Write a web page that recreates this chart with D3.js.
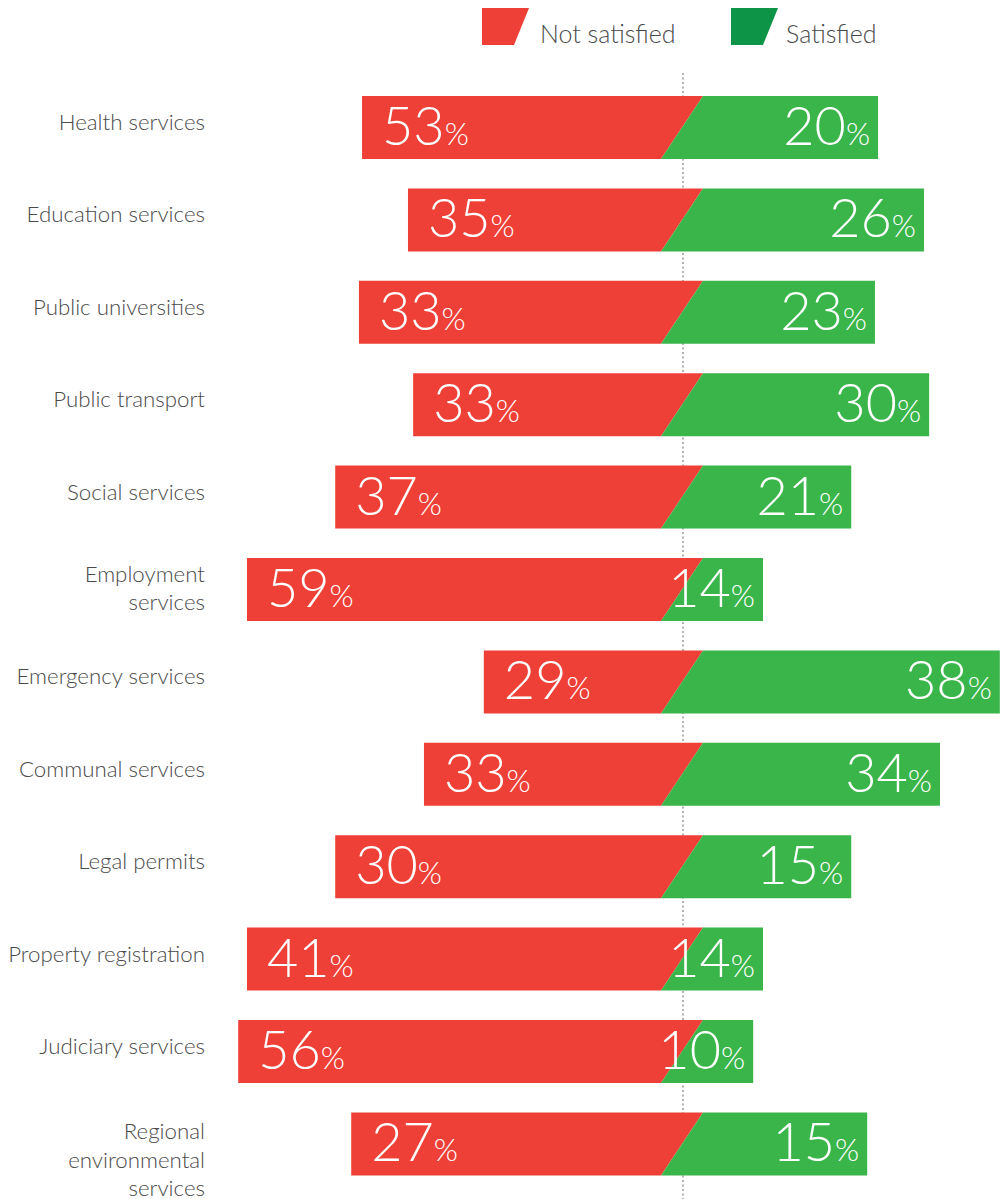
<!DOCTYPE html>
<html>
<head>
<meta charset="utf-8">
<script src="https://cdn.jsdelivr.net/npm/d3@7"></script>
<style>
  html, body { margin: 0; padding: 0; background: #fff; }
  svg { display: block; }
</style>
</head>
<body>
<svg id="chart" width="1004" height="1199"></svg>
<script>
// ---- data ----
const categories = [
  "Health services", "Education services", "Public universities", "Public transport",
  "Social services", "Employment services", "Emergency services", "Communal services",
  "Legal permits", "Property registration", "Judiciary services", "Regional environmental services"
];
// label lines as printed
const categoryLines = [
  ["Health services"], ["Education services"], ["Public universities"], ["Public transport"],
  ["Social services"], ["Employment", "services"], ["Emergency services"], ["Communal services"],
  ["Legal permits"], ["Property registration"], ["Judiciary services"], ["Regional", "environmental", "services"]
];
// printed percentages
const notSatisfied = [53, 35, 33, 33, 37, 59, 29, 33, 30, 41, 56, 27];
const satisfied    = [20, 26, 23, 30, 21, 14, 38, 34, 15, 14, 10, 15];
// drawn share of each bar (% of bar length)
const notSatisfiedBar = [62.2, 53.3, 62.8, 52.3, 67.4, 84.5, 38.6, 50.2, 67.4, 84.5, 86.2, 64.3];
const satisfiedBar    = [37.8, 46.7, 37.2, 47.7, 32.6, 15.5, 61.4, 49.8, 32.6, 15.5, 13.6, 35.7];
const seriesNames = ["Not satisfied", "Satisfied"];

// ---- layout ----
const W = 1004, H = 1199;
const centerX = 683;
const barLen = 516;
const RED = "#ef4037", GREEN = "#3ab54a", GREEN_LEG = "#0e9447";
const FONT = "Lato, 'Open Sans', sans-serif";

const svg = d3.select("#chart");

const x = d3.scaleLinear().domain([-100, 100]).range([centerX - barLen, centerX + barLen]);
const y = d3.scaleBand().domain(categories).range([96, 1175.4]).paddingInner(0.318).paddingOuter(0).align(0);
const bh = y.bandwidth();

const rows = categories.map((c, i) => ({
  c, lines: categoryLines[i], ns: notSatisfied[i], s: satisfied[i],
  nb: notSatisfiedBar[i], sb: satisfiedBar[i]
}));

// center dotted line
svg.append("line")
  .attr("x1", x(0)).attr("x2", x(0))
  .attr("y1", 73).attr("y2", H)
  .attr("stroke", "#666").attr("stroke-width", 1)
  .attr("stroke-dasharray", "2,2.5");

const slantTop = 20, slantBot = -22;

const g = svg.append("g");
const row = g.selectAll("g.row").data(rows).join("g").attr("class", "row");

// red part
row.append("path")
  .attr("fill", RED)
  .attr("d", d => {
    const t = y(d.c), b = t + bh, L = x(-d.nb);
    return `M${L},${t}L${x(0) + slantTop},${t}L${x(0) + slantBot},${b}L${L},${b}Z`;
  });
// green part
row.append("path")
  .attr("fill", GREEN)
  .attr("d", d => {
    const t = y(d.c), b = t + bh, R = x(d.sb);
    return `M${x(0) + slantTop},${t}L${R},${t}L${R},${b}L${x(0) + slantBot},${b}Z`;
  });

// value labels
function pctLabel(sel, accessor) {
  sel.append("tspan").attr("font-size", 54).text(accessor);
  sel.append("tspan").attr("font-size", 31).text("%");
}
row.append("text")
  .attr("x", d => x(-d.nb) + 20)
  .attr("y", d => y(d.c) + 49)
  .attr("fill", "#fff").attr("font-family", FONT).attr("font-weight", 300)
  .attr("text-anchor", "start")
  .call(pctLabel, d => d.ns);
row.append("text")
  .attr("x", d => x(d.sb) - 8)
  .attr("y", d => y(d.c) + 49)
  .attr("fill", "#fff").attr("font-family", FONT).attr("font-weight", 300)
  .attr("text-anchor", "end")
  .call(pctLabel, d => d.s);

// category labels
const firstBase = {1: 34, 2: 24, 3: 27};
row.append("text")
  .attr("font-family", FONT).attr("font-weight", 300)
  .attr("font-size", 22.3).attr("fill", "#4a4a4a")
  .attr("text-anchor", "end")
  .each(function(d) {
    const t = d3.select(this);
    d.lines.forEach((ln, k) => {
      t.append("tspan").attr("x", 205)
        .attr("y", y(d.c) + firstBase[d.lines.length] + k * 28.5)
        .text(ln);
    });
  });

// legend
const legend = svg.append("g");
const legItems = [
  {name: seriesNames[0], color: RED, x0: 482, tx: 540},
  {name: seriesNames[1], color: GREEN_LEG, x0: 731, tx: 786}
];
legend.selectAll("path").data(legItems).join("path")
  .attr("fill", d => d.color)
  .attr("d", d => `M${d.x0},8L${d.x0 + 47},8L${d.x0 + 32},45L${d.x0},45Z`);
legend.selectAll("text").data(legItems).join("text")
  .attr("x", d => d.tx).attr("y", 43)
  .attr("font-family", FONT).attr("font-weight", 300)
  .attr("font-size", 25).attr("fill", "#4a4a4a")
  .text(d => d.name);
</script>
</body>
</html>
